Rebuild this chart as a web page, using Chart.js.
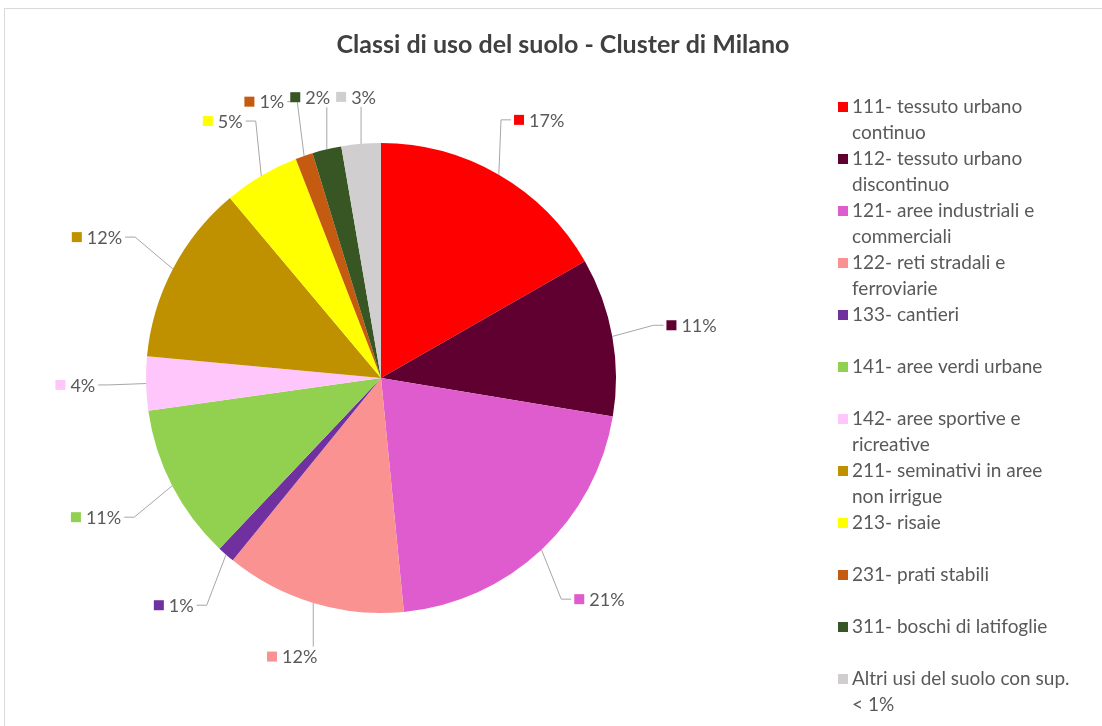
<!DOCTYPE html>
<html>
<head>
<meta charset="utf-8">
<script src="https://cdn.jsdelivr.net/npm/chart.js@4.4.1/dist/chart.umd.min.js"></script>
<style>
  html, body { margin: 0; padding: 0; background: #fff; }
  .wrap { position: relative; width: 1102px; height: 726px; }
  .frame { position: absolute; left: 4px; top: 8px; width: 1110px; height: 730px; border: 1px solid #d9d9d9; pointer-events: none; }
  canvas { position: absolute; left: 0; top: 0; }
</style>
</head>
<body>
<div class="wrap">
  <div class="frame"></div>
  <canvas id="myChart" width="1102" height="726"></canvas>
</div>
<script>
const chartTitle = 'Classi di uso del suolo - Cluster di Milano'
const categories = [
  ['111- tessuto urbano', 'continuo'],
  ['112- tessuto urbano', 'discontinuo'],
  ['121- aree industriali e', 'commerciali'],
  ['122- reti stradali e', 'ferroviarie'],
  ['133- cantieri'],
  ['141- aree verdi urbane'],
  ['142- aree sportive e', 'ricreative'],
  ['211- seminativi in aree', 'non irrigue'],
  ['213- risaie'],
  ['231- prati stabili'],
  ['311- boschi di latifoglie'],
  ['Altri usi del suolo con sup.', '< 1%'],
]
// quota di superficie (%)
const shares = [16.7, 10.9, 20.8, 12.4, 1.2, 10.7, 3.7, 12.4, 5.2, 1.2, 2.0, 2.7]
const colors = ['#ff0000', '#600030', '#df5ccf', '#fa9292', '#7030a0', '#92d050',
  '#ffc6fb', '#bf9000', '#ffff00', '#c55a11', '#375623', '#d0cece']

const FONT = 'Lato, "Noto Sans", sans-serif'
const TEXT_COL = '#595959'

// title, drawn over the whole canvas width
const titlePlugin = {
  id: 'topTitle',
  afterDraw(chart) {
    const ctx = chart.ctx
    ctx.save()
    ctx.font = 'bold 25px ' + FONT
    ctx.fillStyle = '#404040'
    ctx.textAlign = 'center'
    ctx.textBaseline = 'middle'
    ctx.fillText(chartTitle, 563, 45)
    ctx.restore()
  }
}

// legend on the right, two text lines per entry
const sideLegend = {
  id: 'sideLegend',
  afterDraw(chart) {
    const ctx = chart.ctx
    const ds = chart.data.datasets[0]
    ctx.save()
    ctx.font = '19px ' + FONT
    ctx.textBaseline = 'middle'
    ctx.textAlign = 'left'
    chart.data.labels.forEach((lines, i) => {
      const y0 = 107 + i * 52
      ctx.fillStyle = ds.backgroundColor[i]
      ctx.fillRect(838, y0 - 5, 10, 10)
      ctx.fillStyle = TEXT_COL
      lines.forEach((t, k) => ctx.fillText(t, 852, y0 + k * 26))
    })
    ctx.restore()
  }
}

// percentage labels outside the pie, with leader lines
const outLabels = {
  id: 'outLabels',
  afterDraw(chart) {
    const ctx = chart.ctx
    const meta = chart.getDatasetMeta(0)
    const data = chart.data.datasets[0].data
    const total = data.reduce((a, b) => a + b, 0)
    ctx.save()
    ctx.font = '18px ' + FONT
    const boxes = meta.data.map((arc, i) => {
      const p = arc.getProps(['x', 'y', 'startAngle', 'endAngle', 'outerRadius'], true)
      const a = (p.startAngle + p.endAngle) / 2
      const ux = Math.cos(a), uy = Math.sin(a)
      const txt = Math.round(data[i] / total * 100) + '%'
      const w = 15 + ctx.measureText(txt).width
      const h = 16
      const d = p.outerRadius + 50 * Math.abs(ux) + 35 * Math.abs(uy)
      const cx = p.x + d * ux + (w / 2) * ux
      const cy = p.y + d * uy + (h / 2) * uy
      return { i, txt, w, h, cx, cy, ux, uy,
        px: p.x + p.outerRadius * ux, py: p.y + p.outerRadius * uy }
    })
    // push apart crowded labels at the top-left
    for (let i = boxes.length - 2; i >= 0; i--) {
      const b = boxes[i], n = boxes[i + 1]
      if (b.ux > 0 || n.ux > 0) continue
      const ox = Math.abs(b.cx - n.cx) < (b.w + n.w) / 2 + 6
      const oy = Math.abs(b.cy - n.cy) < (b.h + n.h) / 2
      if (ox && oy) b.cx = n.cx - (b.w + n.w) / 2 - 6
    }
    boxes.forEach(b => {
      const left = b.cx - b.w / 2, right = b.cx + b.w / 2
      const top = b.cy - b.h / 2, bottom = b.cy + b.h / 2
      // leader
      ctx.strokeStyle = '#a6a6a6'
      ctx.lineWidth = 1
      ctx.beginPath()
      if (b.px > right + 2) {
        ctx.moveTo(right + 3, b.cy)
        if (b.px > right + 14) ctx.lineTo(right + 13, b.cy)
        ctx.lineTo(b.px, b.py)
      } else if (b.px < left - 2) {
        ctx.moveTo(left - 3, b.cy)
        if (b.px < left - 14) ctx.lineTo(left - 13, b.cy)
        ctx.lineTo(b.px, b.py)
      } else {
        const yy = b.py > b.cy ? bottom + 2 : top - 2
        ctx.moveTo(b.px, yy)
        ctx.lineTo(b.px, b.py)
      }
      ctx.stroke()
      // key square + text
      ctx.fillStyle = colors[b.i]
      ctx.fillRect(left, b.cy - 5, 10, 10)
      ctx.fillStyle = TEXT_COL
      ctx.textAlign = 'left'
      ctx.textBaseline = 'middle'
      ctx.fillText(b.txt, left + 15, b.cy + 1)
    })
    ctx.restore()
  }
}

const ctx = document.getElementById('myChart').getContext('2d')
const myChart = new Chart(ctx, {
  type: 'pie',
  data: {
    labels: categories,
    datasets: [{
      data: shares,
      backgroundColor: colors,
      borderWidth: 0,
    }]
  },
  options: {
    responsive: false,
    animation: false,
    layout: { padding: { left: 146, right: 486, top: 143, bottom: 113 } },
    plugins: {
      legend: { display: false },
      title: { display: false },
      tooltip: { enabled: false },
    }
  },
  plugins: [titlePlugin, sideLegend, outLabels]
})
</script>
</body>
</html>
